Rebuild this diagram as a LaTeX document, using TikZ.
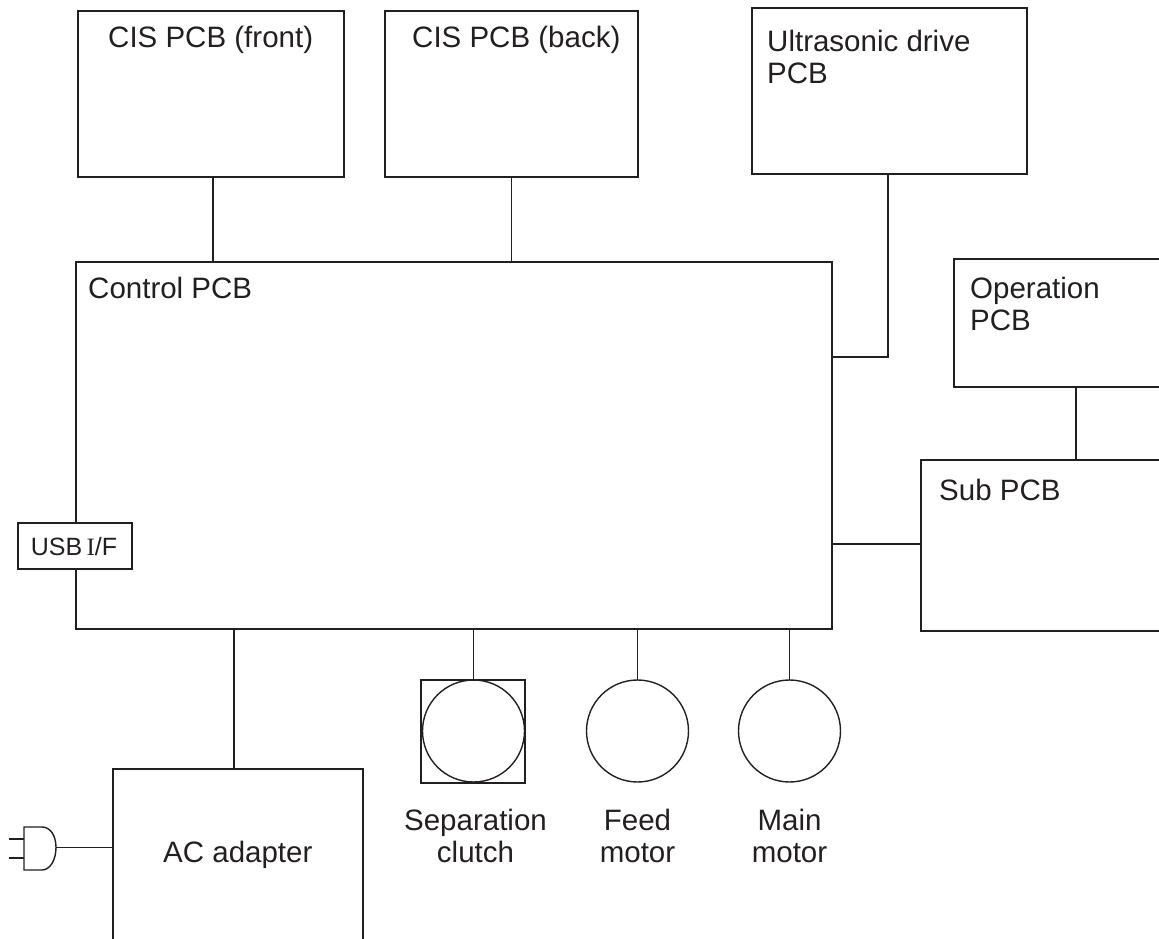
\documentclass[tikz,border=0pt]{standalone}
\usepackage{fontspec}
\setmainfont{Liberation Sans}
\newfontfamily\serifI{Liberation Serif}
\definecolor{ink}{HTML}{231F20}
\begin{document}
\begin{tikzpicture}[x=1pt,y=-1pt,
  lbl/.style={inner sep=0pt,text=ink,font=\fontsize{29.5}{32}\selectfont,align=left},
  clbl/.style={inner sep=0pt,text=ink,font=\fontsize{29.5}{32}\selectfont,align=center},
  boxnode/.style={draw=ink,line width=1.4pt,fill=none,inner sep=0pt,outer sep=0pt,rectangle},
  conn/.style={draw=ink,line width=1.4pt},
  circ/.style={draw=ink,line width=1.4pt,circle,inner sep=0pt,outer sep=0pt,minimum size=102pt}]
\useasboundingbox (0,0) rectangle (1159,939);
\clip (0,0) rectangle (1159,939);
\node[boxnode,minimum width=266pt,minimum height=166pt] (cisf) at (211,94) {};
\node[boxnode,minimum width=253pt,minimum height=166pt] (cisb) at (511.5,94) {};
\node[boxnode,minimum width=275pt,minimum height=166pt] (ultra) at (889.5,91) {};
\node[boxnode,minimum width=756pt,minimum height=367pt] (ctrl) at (454,445.5) {};
\node[boxnode,minimum width=225pt,minimum height=128pt] (op) at (1066.5,323) {};
\node[boxnode,minimum width=258pt,minimum height=171pt] (sub) at (1050,545.5) {};
\node[boxnode,fill=white,minimum width=114pt,minimum height=46pt] (usb) at (75,546) {};
\node[boxnode,minimum width=250pt,minimum height=190pt] (ac) at (238,864) {};
\node[boxnode,minimum width=104pt,minimum height=103pt] (sq) at (473,731.5) {};
\node[circ] (clutch) at (473.5,731) {};
\node[circ] (feed) at (637.5,731) {};
\node[circ] (mainm) at (789.5,731) {};
\node[lbl,anchor=base west] (t1) at (108,48) {CIS PCB (front)};
\node[lbl,anchor=base west] (t2) at (412,48) {CIS PCB (back)};
\node[lbl,anchor=base west] (t3) at (767,84) {Ultrasonic drive\\PCB};
\node[lbl,anchor=base west] (t4) at (88,298) {Control PCB};
\node[lbl,anchor=base west] (t5) at (970,330) {Operation\\PCB};
\node[lbl,anchor=base west] (t6) at (939,500) {Sub PCB};
\node[lbl,anchor=base west] (t7) at (163,862) {AC adapter};
\node[anchor=center,inner sep=0pt,text=ink,font=\fontsize{25}{28}\selectfont] (t8) at (74,547) {USB\,{\serifI I}/F};
\node[clbl,anchor=base] (t9) at (475.5,862) {Separation\\clutch};
\node[clbl,anchor=base] (t10) at (637.5,862) {Feed\\motor};
\node[clbl,anchor=base] (t11) at (789.5,862) {Main\\motor};
\coordinate (a1) at (213,177);
\draw[conn] (a1) -- (a1 |- ctrl.north);
\coordinate (a2) at (cisb.south);
\draw[conn] (a2) -- (a2 |- ctrl.north);
\draw[conn] (888,174) |- (ctrl.east |- 0,357);
\draw[conn] (op.south -| 1076,0) -- (sub.north -| 1076,0);
\draw[conn] (ctrl.east |- 0,544) -- (sub.west |- 0,544);
\draw[conn] (ctrl.south -| 234,0) -- (ac.north -| 234,0);
\draw[conn] (ctrl.south -| clutch.north) -- (clutch.north);
\draw[conn] (ctrl.south -| feed.north) -- (feed.north);
\draw[conn] (ctrl.south -| mainm.north) -- (mainm.north);
\coordinate (pl) at (56,847.5);
\draw[conn] (pl) -- (ac.west |- pl);
\draw[conn] (42,827) -- (24,827) -- (24,870) -- (42,870) .. controls (50,870) and (56,860) .. (pl) .. controls (56,835) and (50,827) .. (42,827) -- cycle;
\draw[conn] (9,839) -- (24,839);
\draw[conn] (9,858) -- (24,858);
\end{tikzpicture}
\end{document}
